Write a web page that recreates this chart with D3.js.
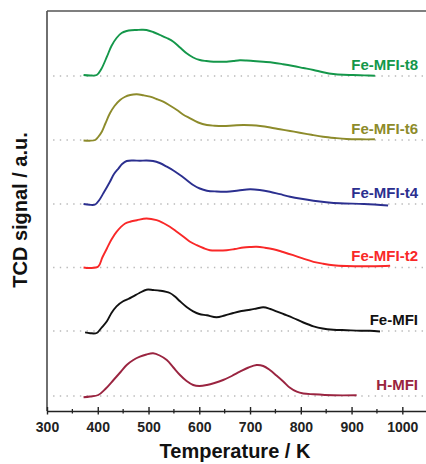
<!DOCTYPE html>
<html>
<head>
<meta charset="utf-8">
<script src="https://cdn.jsdelivr.net/npm/d3@7"></script>
<style>
  html, body { margin: 0; padding: 0; background: #fff; }
  svg { display: block; font-family: Arial, "Liberation Sans", Helvetica, sans-serif; }
</style>
</head>
<body>
<svg id="chart" width="426" height="464"></svg>
<script>
// TPR traces (TCD signal vs temperature), each stacked on its own baseline
const seriesNames = ["H-MFI", "Fe-MFI", "Fe-MFI-t2", "Fe-MFI-t4", "Fe-MFI-t6", "Fe-MFI-t8"];
const seriesColors = ["#9a2440", "#111111", "#f92828", "#2b2f8f", "#8d8b2b", "#14974a"];
const offsets = [0, 6.5, 12.85, 19.2, 25.6, 32];

const tempHMFI = [372, 385, 401, 415, 431, 445, 457, 470, 483, 496, 509, 522, 536, 549, 562, 575, 588, 600, 615, 630, 647, 664, 680, 697, 713, 726, 739, 752, 766, 778, 792, 805, 825, 864, 910];
const sigHMFI  = [-0.13, -0.05, 0.1, 0.7, 1.6, 2.4, 3.1, 3.6, 3.93, 4.15, 4.27, 4.05, 3.6, 2.85, 2.1, 1.5, 1.1, 1.0, 1.1, 1.3, 1.6, 2.0, 2.43, 2.85, 3.1, 3.0, 2.6, 2.05, 1.43, 0.85, 0.43, 0.25, 0.17, 0.07, 0.07];

const tempFeMFI = [375, 385, 398, 407, 418, 427, 437, 450, 460, 470, 482, 496, 509, 523, 542, 552, 562, 575, 588, 600, 615, 634, 650, 667, 683, 700, 713, 726, 740, 752, 768, 785, 805, 825, 843, 864, 890, 917, 936, 956];
const sigFeMFI  = [-0.13, -0.22, -0.2, 0.3, 0.97, 1.8, 2.47, 2.97, 3.2, 3.47, 3.8, 4.13, 4.1, 4.03, 3.8, 3.45, 2.97, 2.4, 1.97, 1.7, 1.57, 1.37, 1.55, 1.8, 2.0, 2.13, 2.25, 2.37, 2.2, 1.97, 1.65, 1.3, 0.85, 0.47, 0.25, 0.13, 0.08, 0.03, 0.02, -0.05];

const tempT2 = [372, 385, 401, 409, 418, 427, 437, 454, 465, 477, 496, 516, 529, 542, 555, 569, 581, 595, 608, 621, 637, 654, 670, 687, 700, 713, 729, 746, 765, 785, 805, 825, 844, 864, 890, 917, 946, 976];
const sigT2  = [0, -0.05, 0.1, 1.0, 1.9, 2.8, 3.57, 4.4, 4.6, 4.73, 4.9, 4.73, 4.45, 4.07, 3.6, 3.07, 2.6, 2.23, 1.95, 1.73, 1.7, 1.73, 1.85, 2.0, 2.05, 2.07, 1.98, 1.83, 1.55, 1.23, 0.88, 0.57, 0.38, 0.23, 0.15, 0.13, 0.13, 0.17];

const tempT4 = [372, 384, 395, 403, 411, 424, 432, 441, 448, 457, 470, 483, 496, 509, 522, 536, 549, 562, 575, 588, 601, 615, 634, 654, 677, 700, 719, 739, 759, 779, 801, 825, 850, 877, 925, 972];
const sigT4  = [0, -0.08, -0.05, 0.4, 1.07, 2.23, 3.0, 3.57, 4.0, 4.3, 4.35, 4.33, 4.35, 4.3, 4.1, 3.73, 3.35, 2.9, 2.4, 1.9, 1.55, 1.33, 1.25, 1.23, 1.35, 1.47, 1.4, 1.23, 0.98, 0.73, 0.52, 0.33, 0.18, 0.07, 0, -0.15];

const tempT6 = [372, 384, 395, 400, 408, 415, 424, 433, 444, 453, 464, 477, 490, 503, 516, 529, 542, 556, 568, 582, 598, 615, 630, 647, 667, 687, 703, 720, 740, 759, 779, 798, 821, 844, 867, 890, 918, 946];
const sigT6  = [-0.05, -0.07, 0, 0.25, 0.83, 1.65, 2.67, 3.4, 4.0, 4.3, 4.5, 4.57, 4.47, 4.33, 4.1, 3.83, 3.45, 3.0, 2.55, 2.17, 1.75, 1.5, 1.43, 1.4, 1.45, 1.5, 1.47, 1.4, 1.25, 1.07, 0.9, 0.73, 0.52, 0.33, 0.2, 0.1, 0.07, 0.07];

const tempT8 = [372, 385, 398, 407, 418, 427, 437, 447, 457, 466, 477, 486, 496, 509, 523, 536, 549, 562, 575, 588, 601, 614, 628, 640, 654, 667, 680, 693, 706, 726, 746, 765, 785, 805, 825, 844, 864, 884, 903, 925, 946];
const sigT8  = [0.1, 0.05, 0.1, 0.7, 1.93, 3.0, 3.8, 4.3, 4.5, 4.58, 4.6, 4.62, 4.6, 4.4, 4.1, 3.8, 3.43, 2.85, 2.27, 1.85, 1.6, 1.5, 1.43, 1.42, 1.43, 1.5, 1.57, 1.55, 1.5, 1.42, 1.33, 1.18, 1.0, 0.8, 0.6, 0.38, 0.2, 0.12, 0.1, 0.06, 0.03];

const seriesTemps = [tempHMFI, tempFeMFI, tempT2, tempT4, tempT6, tempT8];
const seriesSignals = [sigHMFI, sigFeMFI, sigT2, sigT4, sigT6, sigT8];

const xMajorTicks = [300, 400, 500, 600, 700, 800, 900, 1000];
const xMinorTicks = [350, 450, 550, 650, 750, 850, 950];
const xTitle = "Temperature / K";
const yTitle = "TCD signal / a.u.";

const svg = d3.select("#chart");
const plotLeft = 47, plotTop = 11, plotBottom = 411, plotRight = 427.7;

const x = d3.scaleLinear().domain([300, 1050]).range([plotLeft, plotRight]);
const y = d3.scaleLinear().domain([-1.5, 38.5]).range([plotBottom, plotTop]);

// Dotted baselines beneath each trace
svg.append("g").selectAll("line")
  .data(offsets)
  .join("line")
  .attr("x1", x(312)).attr("x2", x(1050))
  .attr("y1", d => y(d)).attr("y2", d => y(d))
  .attr("stroke", "#b9b9b9")
  .attr("stroke-width", 1.3)
  .attr("stroke-dasharray", "1.4,5.3");

// Traces
const line = d3.line()
  .x(d => x(d[0]))
  .y(d => y(d[1]))
  .curve(d3.curveCatmullRom.alpha(0.5));

const traces = seriesNames.map((name, i) => ({
  name,
  color: seriesColors[i],
  offset: offsets[i],
  points: seriesTemps[i].map((t, j) => [t, seriesSignals[i][j] + offsets[i]])
}));

svg.append("g").selectAll("path")
  .data(traces)
  .join("path")
  .attr("d", d => line(d.points))
  .attr("fill", "none")
  .attr("stroke", d => d.color)
  .attr("stroke-width", 1.9)
  .attr("stroke-linejoin", "round");

// Series labels at right
svg.append("g").selectAll("text")
  .data(traces)
  .join("text")
  .attr("x", 418)
  .attr("y", d => y(d.offset) - 6.5)
  .attr("text-anchor", "end")
  .attr("font-size", 15)
  .attr("font-weight", "bold")
  .attr("fill", d => d.color)
  .text(d => d.name);

// Frame: left and top edges
svg.append("line")
  .attr("x1", plotLeft).attr("x2", plotLeft).attr("y1", plotTop).attr("y2", plotBottom)
  .attr("stroke", "#333").attr("stroke-width", 1.4);
svg.append("line")
  .attr("x1", plotLeft).attr("x2", plotRight).attr("y1", plotTop).attr("y2", plotTop)
  .attr("stroke", "#555").attr("stroke-width", 1.4);

// Bottom axis
const xAxis = d3.axisBottom(x)
  .tickValues(xMajorTicks)
  .tickSizeInner(3)
  .tickSizeOuter(0)
  .tickPadding(8)
  .tickFormat(d3.format("d"));

const gx = svg.append("g")
  .attr("transform", `translate(0,${plotBottom})`)
  .call(xAxis);
gx.select(".domain").attr("stroke", "#222").attr("stroke-width", 1.4);
gx.selectAll(".tick line").attr("y1", -4).attr("y2", 3.5).attr("stroke", "#222").attr("stroke-width", 1.4);
gx.selectAll(".tick text")
  .attr("font-size", 14)
  .attr("font-weight", "bold")
  .attr("fill", "#222")
  .attr("font-family", "Arial, 'Liberation Sans', sans-serif");

gx.append("g").selectAll("line")
  .data(xMinorTicks)
  .join("line")
  .attr("x1", d => x(d)).attr("x2", d => x(d))
  .attr("y1", -2).attr("y2", 2.5)
  .attr("stroke", "#222").attr("stroke-width", 1.3);

// Axis titles
svg.append("text")
  .attr("x", 235)
  .attr("y", 458)
  .attr("text-anchor", "middle")
  .attr("font-size", 20)
  .attr("font-weight", "bold")
  .attr("fill", "#111")
  .text(xTitle);

svg.append("text")
  .attr("transform", "translate(27,210) rotate(-90)")
  .attr("text-anchor", "middle")
  .attr("font-size", 20)
  .attr("font-weight", "bold")
  .attr("fill", "#111")
  .text(yTitle);
</script>
</body>
</html>
